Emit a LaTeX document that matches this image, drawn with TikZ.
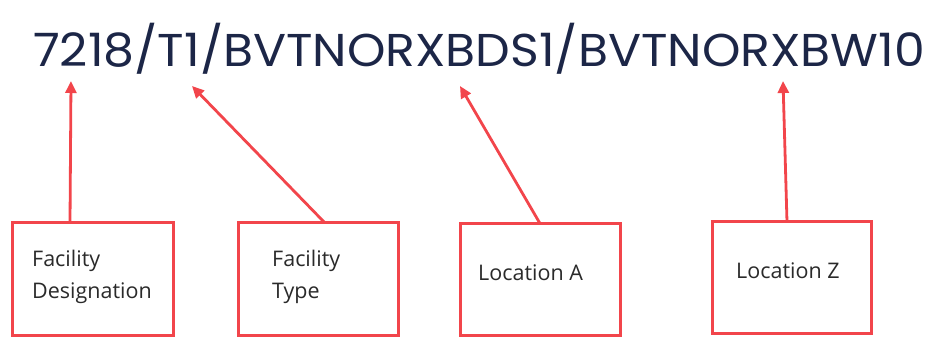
\documentclass[tikz,border=0pt]{standalone}
\usepackage{fontspec}
\setmainfont{Open Sans}
\newfontfamily\titlefont{Poppins}
\usetikzlibrary{arrows.meta,shadows}
\definecolor{boxred}{HTML}{F2454B}
\definecolor{navy}{HTML}{1C2647}
\definecolor{labelgray}{HTML}{2A2A2A}
\begin{document}
\begin{tikzpicture}[x=1pt,y=-1pt,
  labelbox/.style={draw=boxred,line width=3pt,fill=white,
    drop shadow={shadow xshift=1.5pt,shadow yshift=-1.5pt,opacity=0.25,fill=black!60},
    inner sep=0pt,outer sep=0pt},
  pointer/.style={draw=boxred,line width=2.8pt,
    -{Triangle[length=12pt,width=11pt]}},
  lbl/.style={text=labelgray,font=\fontsize{21.5}{32}\selectfont,inner sep=0pt,anchor=west,align=left}]
\useasboundingbox (0,0) rectangle (929,339);
% title
\node[anchor=base west,inner sep=0pt,text=navy,font=\titlefont\fontsize{46}{50}\selectfont] (title) at (33,67) {\scalebox{1.064}[1]{7218/T1/BVTNORXBDS1/BVTNORXBW10}};
% targets on the title
\coordinate (t1) at (71,81);
\coordinate (t2) at (192,86);
\coordinate (t3) at (460,86);
\coordinate (t4) at (783,81);
% boxes
\node[labelbox,minimum width=161pt,minimum height=112pt] (b1) at (92.5,279) {};
\node[labelbox,minimum width=160pt,minimum height=112pt] (b2) at (318,279) {};
\node[labelbox,minimum width=160pt,minimum height=112pt] (b3) at (540,279.5) {};
\node[labelbox,minimum width=159pt,minimum height=111pt] (b4) at (791.5,277.5) {};
% labels
\node[lbl] (l1) at (32,277) {Facility\\Designation};
\node[lbl] (l2) at (272,277) {Facility\\Type};
\node[lbl] (l3) at (478,273) {Location A};
\node[lbl] (l4) at (736,271) {Location Z};
% pointers
\draw[pointer] (b1.north -| 70,0) -- (t1);
\draw[pointer] (b2.north -| 325,0) -- (t2);
\draw[pointer] (b3.north -| 540,0) -- (t3);
\draw[pointer] (b4.north -| 787,0) -- (t4);
\end{tikzpicture}
\end{document}
